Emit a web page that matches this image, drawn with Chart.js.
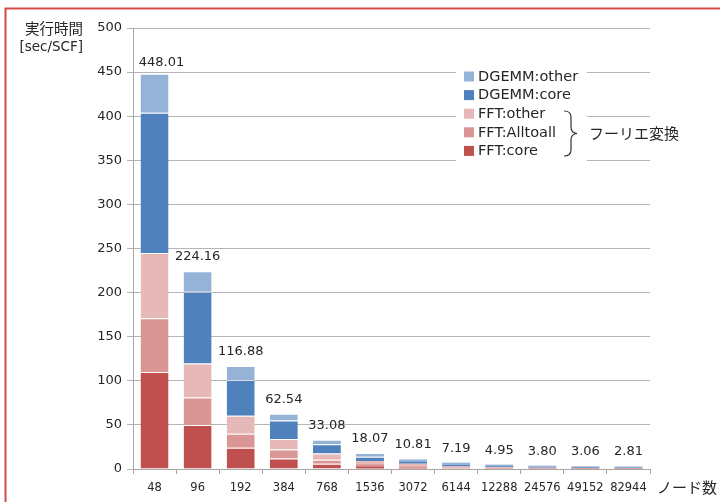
<!DOCTYPE html>
<html>
<head>
<meta charset="utf-8">
<script src="https://cdn.jsdelivr.net/npm/chart.js@4"></script>
<style>
  html, body { margin: 0; padding: 0; background: #fff; }
  #wrap { width: 720px; height: 502px; position: relative; }
</style>
</head>
<body>
<div id="wrap"><canvas id="chart"></canvas></div>
<script>
// ── data ──
const nodes = ['48', '96', '192', '384', '768', '1536', '3072', '6144', '12288', '24576', '49152', '82944'];
const totals = [448.01, 224.16, 116.88, 62.54, 33.08, 18.07, 10.81, 7.19, 4.95, 3.80, 3.06, 2.81];

const fftCore     = [110, 50, 24, 12, 6, 3, 1.5, 0.6, 0.4, 0.3, 0.2, 0.2];
const fftAlltoall = [61, 31, 16, 10, 4.5, 2.5, 1.5, 0.8, 0.6, 0.4, 0.3, 0.3];
const fftOther    = [74, 38.5, 20.5, 12, 7, 3.5, 3, 1.5, 1.0, 0.8, 0.6, 0.5];
const dgemmCore   = [159, 81.5, 40.5, 21, 10.5, 5, 2.5, 1.8, 1.2, 0.9, 0.8, 0.7];
const dgemmOther  = [44.01, 23.16, 15.88, 7.54, 5.08, 4.07, 2.31, 2.49, 1.75, 1.40, 1.16, 1.11];

const SERIES = [
  { label: 'FFT:core',     data: fftCore,     color: '#C0504D' },
  { label: 'FFT:Alltoall', data: fftAlltoall, color: '#D99694' },
  { label: 'FFT:other',    data: fftOther,    color: '#E6B9B8' },
  { label: 'DGEMM:core',   data: dgemmCore,   color: '#4F81BD' },
  { label: 'DGEMM:other',  data: dgemmOther,  color: '#95B3D7' },
];

const TXT = '#262626';
const NUM_FONT = '"DejaVu Sans", sans-serif';
const JP_FONT = '"Noto Sans CJK JP", sans-serif';

// labels, legend, titles, frame
const overlay = {
  id: 'overlay',
  afterDatasetsDraw(chart) {
    const ctx = chart.ctx;
    const meta = chart.getDatasetMeta(SERIES.length - 1);
    ctx.save();
    ctx.font = '13px ' + NUM_FONT;
    ctx.fillStyle = TXT;
    ctx.textAlign = 'center';
    ctx.textBaseline = 'middle';
    meta.data.forEach((bar, i) => {
      const dx = i === 0 ? 7 : 0;
      const dy = i === 0 ? 11 : 14.5;
      ctx.fillText(totals[i].toFixed(2), bar.x + dx, bar.y - dy);
    });
    ctx.restore();
  },
  afterDraw(chart) {
    const ctx = chart.ctx;
    ctx.save();

    // legend box
    ctx.fillStyle = '#fff';
    ctx.fillRect(456, 64, 131, 98);
    const rows = SERIES.slice().reverse();
    ctx.font = '14.5px ' + NUM_FONT;
    ctx.textAlign = 'left';
    ctx.textBaseline = 'middle';
    rows.forEach((s, i) => {
      const y = 76.5 + i * 18.6;
      ctx.fillStyle = s.color;
      ctx.fillRect(464, y - 5, 10, 10);
      ctx.fillStyle = TXT;
      ctx.fillText(s.label, 478, y + 0.5);
    });

    // brace
    ctx.strokeStyle = '#333';
    ctx.lineWidth = 1.2;
    ctx.beginPath();
    ctx.moveTo(564, 111);
    ctx.quadraticCurveTo(571, 111, 571, 117);
    ctx.lineTo(571, 127);
    ctx.quadraticCurveTo(571, 133, 577, 133.5);
    ctx.quadraticCurveTo(571, 134, 571, 140);
    ctx.lineTo(571, 150);
    ctx.quadraticCurveTo(571, 156, 564, 156);
    ctx.stroke();

    ctx.fillStyle = TXT;
    ctx.font = '15px ' + JP_FONT;
    ctx.fillText('フーリエ変換', 589, 133);

    // axis titles
    ctx.fillText('ノード数', 657, 487);
    ctx.textAlign = 'right';
    ctx.font = '14.5px ' + JP_FONT;
    ctx.fillText('実行時間', 83, 28);
    ctx.font = '13.5px ' + NUM_FONT;
    ctx.fillText('[sec/SCF]', 83, 47);

    // frame
    ctx.strokeStyle = '#D24A4A';
    ctx.lineWidth = 2;
    ctx.beginPath();
    ctx.moveTo(5.5, 502);
    ctx.lineTo(5.5, 8.5);
    ctx.lineTo(720, 8.5);
    ctx.stroke();

    ctx.restore();
  }
};

new Chart(document.getElementById('chart'), {
  type: 'bar',
  data: {
    labels: nodes,
    datasets: SERIES.map(s => ({
      label: s.label,
      data: s.data,
      backgroundColor: s.color,
      borderColor: 'rgba(255,255,255,0.5)',
      // thin separator only on segments tall enough to show it
      borderWidth: c => (c.raw > 4 ? { top: 1, left: 0, right: 0, bottom: 0 } : 0),
      borderSkipped: false,
      barPercentage: 0.65,
      categoryPercentage: 1.0,
    }))
  },
  options: {
    responsive: true,
    maintainAspectRatio: false,
    animation: false,
    layout: { padding: { left: 0, right: 70, top: 28, bottom: 0 } },
    plugins: {
      legend: { display: false },
      tooltip: { enabled: false },
    },
    scales: {
      x: {
        stacked: true,
        afterFit: s => { s.height = 33; },
        grid: { drawOnChartArea: false, drawTicks: true, tickLength: 5, color: '#a6a6a6' },
        border: { color: '#a6a6a6' },
        ticks: { font: { family: 'DejaVu Sans', size: 11.5 }, color: TXT, padding: 7, maxRotation: 0, autoSkip: false },
      },
      y: {
        stacked: true,
        min: 0, max: 500,
        afterFit: s => { s.width = 133; },
        grid: { color: '#b5b5b5', tickLength: 6 },
        border: { color: '#a6a6a6' },
        ticks: { stepSize: 50, font: { family: 'DejaVu Sans', size: 13 }, color: TXT, padding: 5 },
      }
    }
  },
  plugins: [overlay]
});
</script>
</body>
</html>
